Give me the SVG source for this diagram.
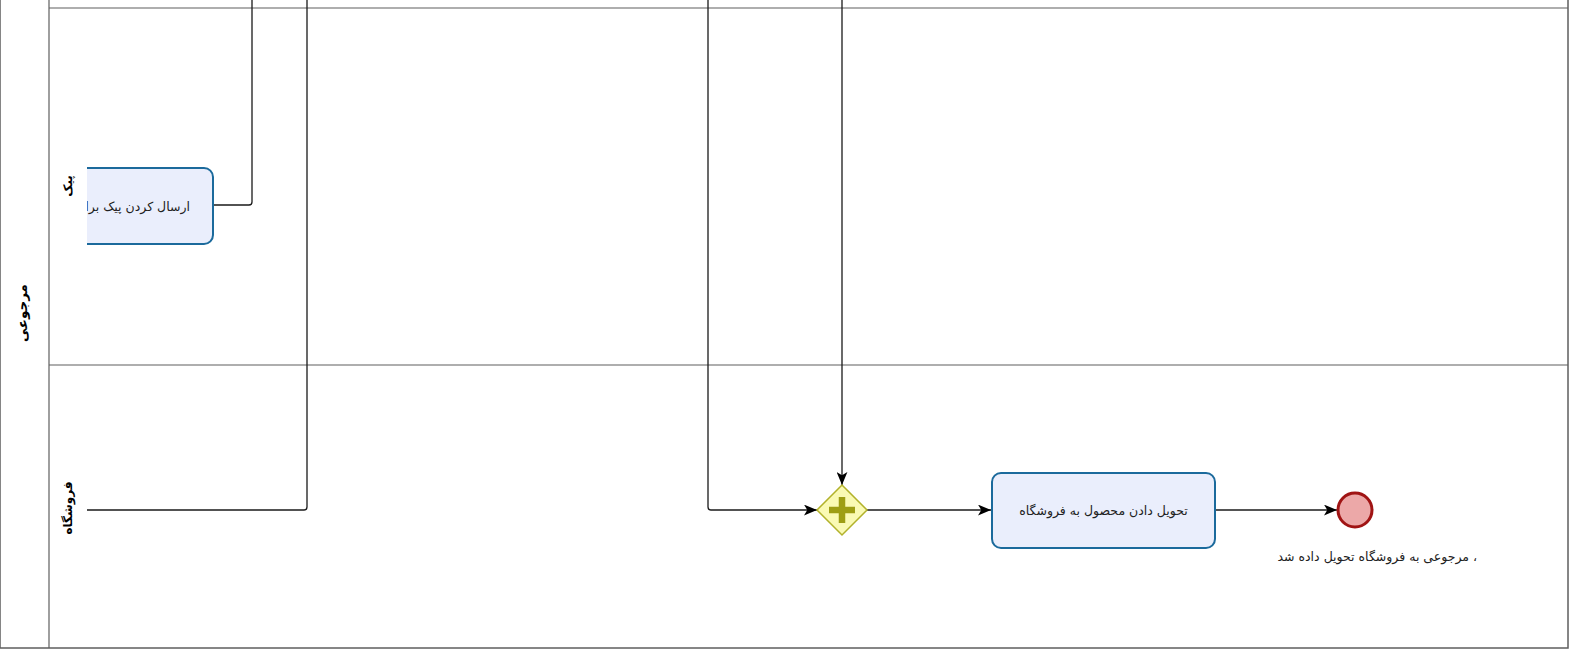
<svg xmlns="http://www.w3.org/2000/svg" width="1594" height="667" viewBox="0 0 1594 667">
<style>
.pool{fill:#ffffff;stroke:#5e5e5e;stroke-width:1.5}
.lane{fill:none;stroke:#5e5e5e;stroke-width:1.2}
.task{fill:#eaeefc;stroke:#1b6a9c;stroke-width:2}
.lbl{font-family:"DejaVu Sans","Noto Sans",sans-serif;font-size:12.5px;fill:#222}
.hdr{font-family:"DejaVu Sans","Noto Sans",sans-serif;font-size:12px;font-weight:bold;fill:#000}
.conn{fill:none;stroke:#1a1a1a;stroke-width:1.3}
</style>
<defs>
<marker id="arr" viewBox="0 0 12 10" refX="12" refY="5" markerWidth="13" markerHeight="11" markerUnits="userSpaceOnUse" orient="auto">
<path d="M0,0 L12,5 L0,10 L3,5 Z" fill="#000"/>
</marker>
<clipPath id="clipL"><rect x="87" y="0" width="1507" height="667"/></clipPath>
<clipPath id="clipR"><rect x="0" y="0" width="1477" height="667"/></clipPath>
</defs>
<rect width="1594" height="667" fill="#ffffff"/>
<g id="pool">
<rect class="pool" x="0" y="-30" width="1568" height="678"/>
<line class="lane" x1="49" y1="-30" x2="49" y2="648"/>
<line class="lane" x1="49" y1="8" x2="1568" y2="8"/>
<line class="lane" x1="49" y1="365" x2="1568" y2="365"/>
<text class="hdr" style="font-size:13.5px" transform="translate(22,313) rotate(-90)" text-anchor="middle" dominant-baseline="central">مرجوعی</text>
</g>
<g id="lane-peyk">
<text class="hdr" transform="translate(68,186) rotate(-90)" text-anchor="middle" dominant-baseline="central">پیک</text>
</g>
<g id="lane-store">
<text class="hdr" transform="translate(68,508) rotate(-90)" text-anchor="middle" dominant-baseline="central">فروشگاه</text>
</g>
<g id="connectors">
<path class="conn" d="M213,205 H249 Q252,205 252,202 V0"/>
<path class="conn" d="M307,0 V507 Q307,510 304,510 H87"/>
<path class="conn" d="M708,0 V507 Q708,510 711,510 H817" marker-end="url(#arr)"/>
<path class="conn" d="M842,0 V485" marker-end="url(#arr)"/>
<path class="conn" d="M867,510 H991" marker-end="url(#arr)"/>
<path class="conn" d="M1215,510 H1337" marker-end="url(#arr)"/>
</g>
<g id="task-send-peyk" clip-path="url(#clipL)">
<rect class="task" x="20" y="168" width="193" height="76" rx="9"/>
<text class="lbl" x="190" y="206" text-anchor="start" dominant-baseline="central" direction="rtl">ارسال کردن پیک برای</text>
</g>
<g id="gateway">
<path d="M842,485 L867,510 L842,535 L817,510 Z" fill="#fafab4" stroke="#b2b22a" stroke-width="1.5"/>
<path d="M842,497 V523 M829,510 H855" stroke="#9e9e14" stroke-width="6.5"/>
</g>
<g id="task-deliver">
<rect class="task" x="992" y="473" width="223" height="75" rx="9"/>
<text class="lbl" x="1103.5" y="510" text-anchor="middle" dominant-baseline="central" direction="rtl">تحویل دادن محصول به فروشگاه</text>
</g>
<g id="end-event">
<circle cx="1355" cy="510" r="17" fill="#eca8a8" stroke="#a01414" stroke-width="3"/>
<text class="lbl" x="1477" y="561" text-anchor="start" direction="rtl" clip-path="url(#clipR)">، مرجوعی به فروشگاه تحویل داده شد</text>
</g>
</svg>
